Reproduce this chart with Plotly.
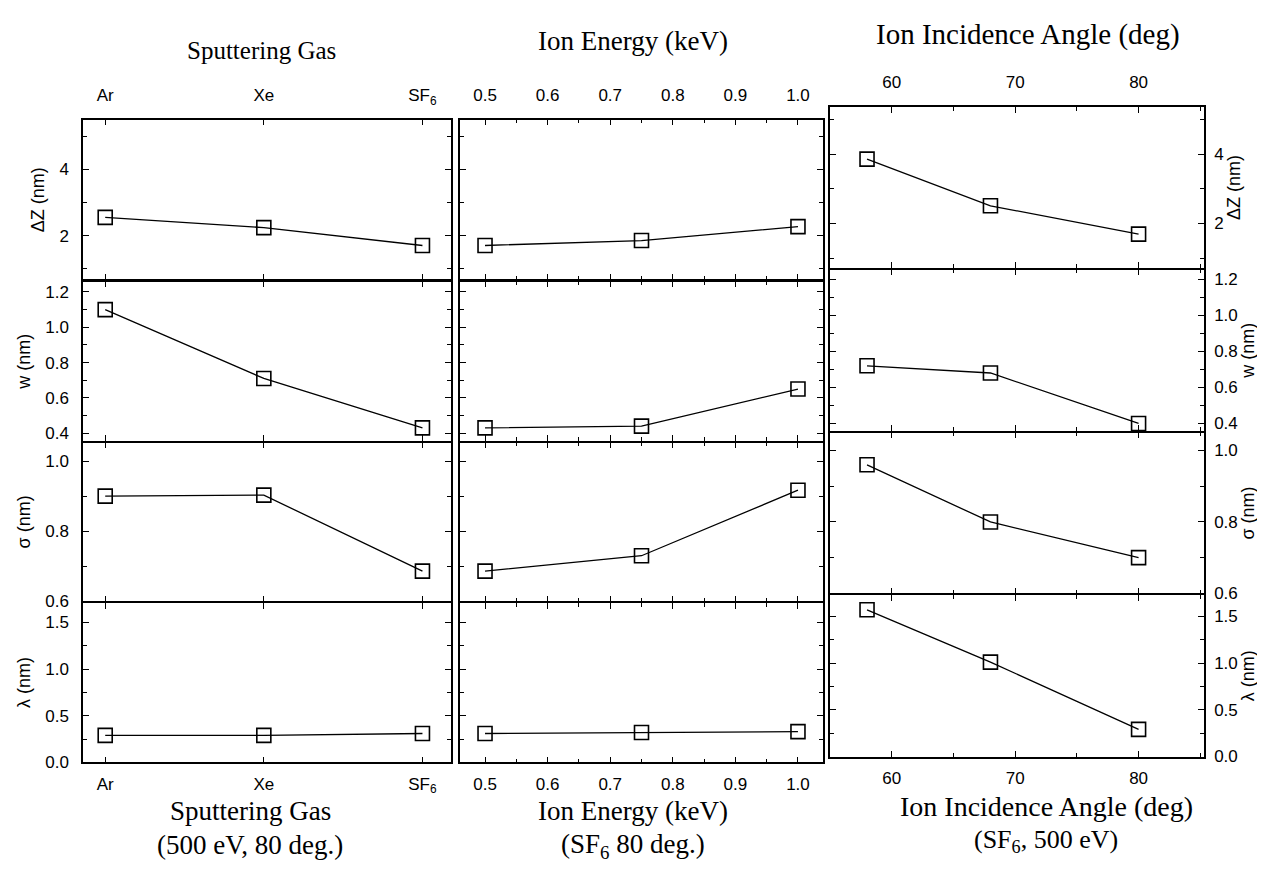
import plotly.graph_objects as go

W, H = 1265, 892

# ---------------- data ----------------
gases = ["Ar", "Xe", "SF<sub>6</sub>"]
gas_dz = [2.55, 2.24, 1.70]
gas_w = [1.10, 0.71, 0.43]
gas_sigma = [0.90, 0.903, 0.686]
gas_lambda = [0.29, 0.29, 0.31]

energy = [0.5, 0.75, 1.0]
en_dz = [1.70, 1.85, 2.27]
en_w = [0.43, 0.44, 0.65]
en_sigma = [0.686, 0.73, 0.917]
en_lambda = [0.31, 0.32, 0.33]

angle = [58, 68, 80]
an_dz = [3.86, 2.51, 1.69]
an_w = [0.72, 0.68, 0.40]
an_sigma = [0.96, 0.80, 0.70]
an_lambda = [1.57, 1.01, 0.29]

ylabels = ["ΔZ (nm)", "w (nm)", "σ (nm)", "λ (nm)"]

# ---------------- layout geometry (pixels) ----------------
col_x = [(75, 443), (452, 815), (822, 1196)]
rows_lm = [(113, 275), (276.5, 438), (439.5, 600), (601.5, 763)]
rows_r = [(100, 263), (264.5, 428), (429.5, 592), (593.5, 757)]

def xd(a, b):
    return [a / W, b / W]

def yd(top, bot):
    return [1 - bot / H, 1 - top / H]

yspec = [
    dict(rl=[0.66, 5.5], rr=[0.71, 5.37], dtick=2, minor=1, fmt="d"),
    dict(rl=[0.355, 1.26], rr=[0.357, 1.254], dtick=0.2, minor=0.1, fmt=".1f"),
    dict(rl=[0.6, 1.053], rr=[0.6, 1.05], dtick=0.2, minor=0.1, fmt=".1f"),
    dict(rl=[0.0, 1.71], rr=[0.0, 1.73], dtick=0.5, minor=0.25, fmt=".1f"),
]

xspec = [
    dict(range=[-0.14, 2.18], type="category", dtick=None, minor=None),
    dict(range=[0.46, 1.04], type="linear", dtick=0.1, minor=0.05),
    dict(range=[55.0, 85.3], type="linear", dtick=10, minor=5),
]

col_data = [
    (gases, [gas_dz, gas_w, gas_sigma, gas_lambda]),
    (energy, [en_dz, en_w, en_sigma, en_lambda]),
    (angle, [an_dz, an_w, an_sigma, an_lambda]),
]

tickfont = dict(family="Liberation Sans, Arial, sans-serif", size=17, color="black")
titlefont = dict(family="Liberation Sans, Arial, sans-serif", size=18, color="black")
serif = "Liberation Serif, Times New Roman, serif"

fig = go.Figure()
layout = dict(
    width=W, height=H,
    margin=dict(l=0, r=0, t=0, b=0),
    paper_bgcolor="white", plot_bgcolor="white",
    showlegend=False,
)

for c in range(3):
    xs, series = col_data[c]
    for r in range(4):
        k = c * 4 + r + 1
        xname = "xaxis" if k == 1 else f"xaxis{k}"
        yname = "yaxis" if k == 1 else f"yaxis{k}"
        xref = "x" if k == 1 else f"x{k}"
        yref = "y" if k == 1 else f"y{k}"

        fig.add_trace(go.Scatter(
            x=xs, y=series[r], xaxis=xref, yaxis=yref,
            mode="lines+markers",
            line=dict(color="black", width=1.3),
            marker=dict(symbol="square-open", size=14, color="black",
                        line=dict(width=1.6, color="black")),
            cliponaxis=False,
        ))

        rows = rows_r if c == 2 else rows_lm
        top, bot = rows[r]
        xs_ = xspec[c]
        xa = dict(
            domain=xd(*col_x[c]), anchor=yref,
            range=xs_["range"], type=xs_["type"],
            showline=True, linecolor="black", linewidth=1.5, mirror="ticks",
            ticks="inside", ticklen=6, tickwidth=1.3, tickcolor="black",
            showgrid=False, zeroline=False,
            tickfont=tickfont,
            showticklabels=(r == 0 or r == 3),
            side="top" if r == 0 else "bottom",
            ticklabelstandoff=10 if r == 0 else 5,
        )
        if xs_["type"] == "category":
            xa["categoryorder"] = "array"
            xa["categoryarray"] = gases
        else:
            xa["dtick"] = xs_["dtick"]
            xa["tick0"] = 0
            xa["minor"] = dict(dtick=xs_["minor"], ticks="inside", ticklen=4,
                               tickcolor="black", tickwidth=1.2, showgrid=False)
            xa["tickformat"] = ".1f" if c == 1 else "d"
        layout[xname] = xa

        ys = yspec[r]
        ya = dict(
            domain=yd(top, bot), anchor=xref,
            range=ys["rr"] if c == 2 else ys["rl"],
            dtick=ys["dtick"], tick0=0, tickformat=ys["fmt"],
            minor=dict(dtick=ys["minor"], ticks="inside", ticklen=4,
                       tickcolor="black", tickwidth=1.2, showgrid=False),
            showline=True, linecolor="black", linewidth=1.5, mirror="ticks",
            ticks="inside", ticklen=6, tickwidth=1.3, tickcolor="black",
            showgrid=False, zeroline=False,
            tickfont=tickfont,
            showticklabels=(c != 1),
            side="right" if c == 2 else "left",
            ticklabelstandoff=9 if c == 0 else 5,
        )
        if c != 1:
            ya["title"] = dict(text=ylabels[r], font=titlefont,
                               standoff=2 if c == 2 else 10)
        layout[yname] = ya

fig.update_layout(**layout)

ann_text = [
    "Sputtering Gas", "Ion Energy (keV)", "Ion Incidence Angle (deg)",
    "Sputtering Gas", "(500 eV, 80 deg.)",
    "Ion Energy (keV)", "(SF<sub>6</sub> 80 deg.)",
    "Ion Incidence Angle (deg)", "(SF<sub>6</sub>, 500 eV)",
]
ann_pos = [(253, 43), (625, 33), (1020, 27),
           (242, 812), (242, 846),
           (625, 812), (625, 847),
           (1038, 808), (1038, 842)]
ann_size = [25, 27, 29, 27, 27, 27, 27, 28, 26]
for text, (px, py), sz in zip(ann_text, ann_pos, ann_size):
    fig.add_annotation(text=text, x=px / W, y=1 - py / H, xref="paper", yref="paper",
                       showarrow=False, xanchor="center", yanchor="middle",
                       font=dict(family=serif, size=sz, color="black"))

fig.write_html("out.html")
